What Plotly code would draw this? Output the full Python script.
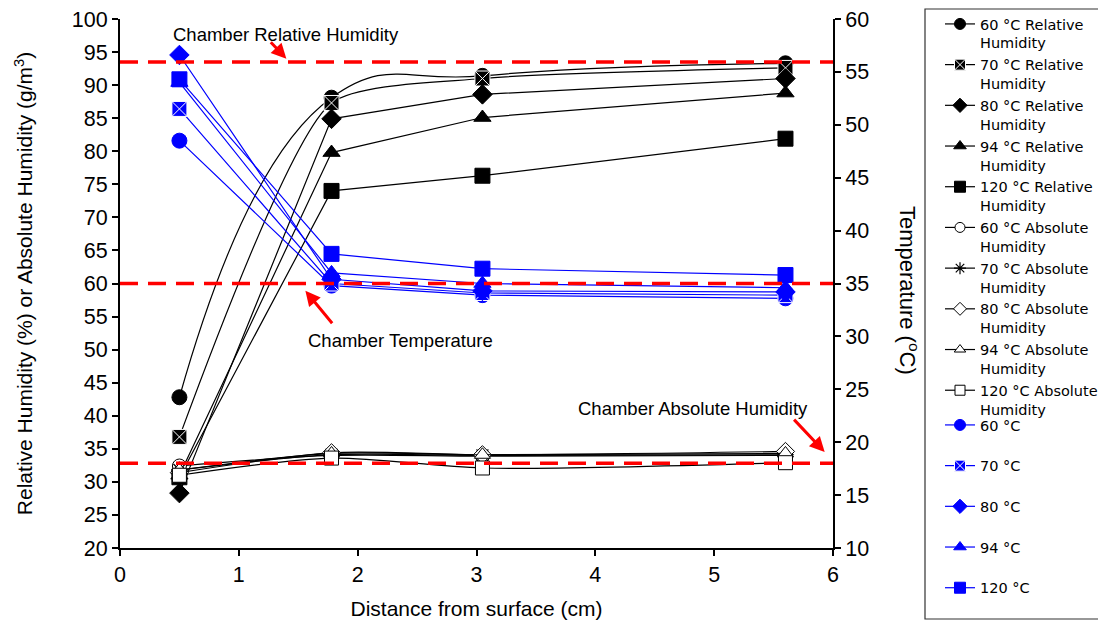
import plotly.graph_objects as go

# ---------------- data ----------------
distance_cm = [0.5, 1.78, 3.05, 5.6]

rh_labels = ["60 °C Relative<br>Humidity", "70 °C Relative<br>Humidity", "80 °C Relative<br>Humidity",
             "94 °C Relative<br>Humidity", "120 °C Relative<br>Humidity"]
rh_60 = [42.8, 88.1, 91.4, 93.3]
rh_70 = [36.8, 87.3, 91.0, 92.6]
rh_80 = [28.3, 84.9, 88.6, 91.0]
rh_94 = [31.0, 79.8, 85.1, 88.8]
rh_120 = [30.7, 74.0, 76.3, 81.9]

ah_labels = ["60 °C Absolute<br>Humidity", "70 °C Absolute<br>Humidity", "80 °C Absolute<br>Humidity",
             "94 °C Absolute<br>Humidity", "120 °C Absolute<br>Humidity"]
ah_60 = [32.4, 34.0, 33.9, 34.0]
ah_70 = [31.8, 34.1, 34.0, 34.1]
ah_80 = [31.4, 34.4, 34.1, 34.6]
ah_94 = [31.8, 34.3, 34.1, 34.3]
ah_120 = [31.0, 33.6, 32.1, 32.9]

t_labels = ["60 °C", "70 °C", "80 °C", "94 °C", "120 °C"]
t_60 = [48.5, 34.8, 33.9, 33.6]
t_70 = [51.5, 35.0, 34.1, 33.9]
t_80 = [56.6, 35.4, 34.3, 34.2]
t_94 = [54.0, 36.0, 35.0, 34.6]
t_120 = [54.3, 37.8, 36.4, 35.8]

chamber_rh = 93.5
chamber_ah = 32.8
chamber_temp = 35.0

x_ticks = [0, 1, 2, 3, 4, 5, 6]
# ---------------------------------------

FONT = "Liberation Sans, Arial, sans-serif"
LEG_FONT = "DejaVu Sans, Liberation Sans, sans-serif"
BLUE = "#0000FF"

# The page body adds an 8 px offset; the figure is sized so that it fits the window exactly.
FIG_W, FIG_H = 1090, 612
M_L, M_R, M_B = 112, 265, 72
PAPER_H = FIG_H - M_B          # 540 (margin t = 0)
PLOT_W = FIG_W - M_L - M_R     # 713
OFF = 8


def py(screen_y):
    return (PAPER_H - (screen_y - OFF)) / PAPER_H


def px(screen_x):
    return (screen_x - OFF - M_L) / PLOT_W


fig = go.Figure()

rh_series = [rh_60, rh_70, rh_80, rh_94, rh_120]
ah_series = [ah_60, ah_70, ah_80, ah_94, ah_120]
t_series = [t_60, t_70, t_80, t_94, t_120]
symbols = ["circle", "square-x", "diamond", "triangle-up", "square"]
ah_symbols = ["circle", "asterisk", "diamond", "triangle-up", "square"]
rh_shapes = [("spline", 1.3), ("spline", 0.6), ("linear", 0), ("linear", 0), ("linear", 0)]


def rh_marker(sym, size):
    return dict(symbol=sym, size=size, color="black",
                line=dict(color="white" if sym == "square-x" else "black", width=1))


def ah_marker(sym, size):
    if sym == "asterisk":
        return dict(symbol="asterisk-open", size=size, color="black", line=dict(color="black", width=1.2))
    return dict(symbol=sym, size=size, color="white", line=dict(color="black", width=1))


def t_marker(sym, size):
    return dict(symbol=sym, size=size, color=BLUE,
                line=dict(color="white" if sym == "square-x" else BLUE, width=1))


legend_entries = []  # (name, line, marker, legend id)

for lab, ys, sym, (shp, sm) in zip(rh_labels, rh_series, symbols, rh_shapes):
    ln = dict(color="black", width=1.2, shape=shp)
    if shp == "spline":
        ln["smoothing"] = sm
    fig.add_trace(go.Scatter(x=distance_cm, y=ys, name=lab, mode="lines+markers", showlegend=False,
                             line=ln, marker=rh_marker(sym, 15)))
    legend_entries.append((lab, dict(color="black", width=1.2), rh_marker(sym, 11), "legend"))

for lab, ys, sym in zip(ah_labels, ah_series, ah_symbols):
    fig.add_trace(go.Scatter(x=distance_cm, y=ys, name=lab, mode="lines+markers", showlegend=False,
                             line=dict(color="black", width=1.2, shape="spline", smoothing=0.8),
                             marker=ah_marker(sym, 14)))
    legend_entries.append((lab, dict(color="black", width=1.2), ah_marker(sym, 10), "legend"))

for lab, ys, sym in zip(t_labels, t_series, symbols):
    fig.add_trace(go.Scatter(x=distance_cm, y=ys, name=lab, mode="lines+markers", showlegend=False,
                             yaxis="y2", line=dict(color=BLUE, width=1.2), marker=t_marker(sym, 15)))
    legend_entries.append((lab + "<br> ", dict(color=BLUE, width=1.2), t_marker(sym, 11), "legend2"))

# legend proxies (legend styling only, no data drawn)
for name, ln, mk, lg in legend_entries:
    fig.add_trace(go.Scatter(x=[None], y=[None], name=name, mode="lines+markers",
                             line=ln, marker=mk, legend=lg, showlegend=True, hoverinfo="skip"))

# chamber reference lines
dash = "18px,10px"
fig.add_shape(type="line", xref="x", yref="y", x0=0, x1=6, y0=chamber_rh, y1=chamber_rh,
              line=dict(color="#FF0000", width=3.5, dash=dash))
fig.add_shape(type="line", xref="x", yref="y2", x0=0, x1=6, y0=chamber_temp, y1=chamber_temp,
              line=dict(color="#FF0000", width=3.5, dash=dash))
fig.add_shape(type="line", xref="x", yref="y", x0=0, x1=6, y0=chamber_ah, y1=chamber_ah,
              line=dict(color="#FF0000", width=3.5, dash=dash))

# legend frame
fig.add_shape(type="rect", xref="paper", yref="paper",
              x0=px(925), x1=px(1102), y0=py(619), y1=py(9),
              line=dict(color="#333333", width=1.2), fillcolor="rgba(0,0,0,0)", layer="below")

txt = dict(family=FONT, size=18.5, color="black")
fig.add_annotation(x=1.395, y=97.7, xref="x", yref="y", text="Chamber Relative Humidity",
                   showarrow=False, font=txt)
fig.add_annotation(x=2.36, y=51.4, xref="x", yref="y", text="Chamber Temperature",
                   showarrow=False, font=txt)
fig.add_annotation(x=4.82, y=41.1, xref="x", yref="y", text="Chamber Absolute Humidity",
                   showarrow=False, font=txt)

arrow = dict(showarrow=True, arrowhead=2, arrowsize=1, arrowwidth=3, arrowcolor="#FF0000", text="",
             axref="pixel", ayref="pixel")
fig.add_annotation(x=1.40, y=94.0, xref="x", yref="y", ax=-17, ay=-18, **arrow)
fig.add_annotation(x=1.56, y=58.9, xref="x", yref="y", ax=28, ay=34, **arrow)
fig.add_annotation(x=5.93, y=34.5, xref="x", yref="y", ax=-32, ay=-34, **arrow)

# right axis title (reads top to bottom)
fig.add_annotation(x=px(925), y=py(290), xref="paper", yref="paper", text="Temperature (<sup>o</sup>C)",
                   textangle=90, showarrow=False, font=dict(family=FONT, size=22, color="black"))

axis_common = dict(showgrid=False, zeroline=False, showline=True, linecolor="black", linewidth=2,
                   ticks="outside", ticklen=6, tickwidth=1.5, tickcolor="black",
                   ticklabeloverflow="allow",
                   tickfont=dict(family=FONT, size=21.5, color="black"))

domain_top = py(19)

leg_common = dict(xanchor="left", yanchor="top", borderwidth=0, bgcolor="rgba(0,0,0,0)",
                  font=dict(family=LEG_FONT, size=14.5, color="black"),
                  tracegroupgap=0, valign="top", itemwidth=30)

fig.update_layout(
    width=FIG_W, height=FIG_H,
    margin=dict(l=M_L, r=M_R, t=0, b=M_B, autoexpand=False),
    paper_bgcolor="white", plot_bgcolor="white",
    font=dict(family=FONT, color="black"),
    xaxis=dict(range=[0, 6], tickvals=x_ticks,
               title=dict(text="Distance from surface (cm)", font=dict(family=FONT, size=21), standoff=16),
               **axis_common),
    yaxis=dict(range=[20, 100], dtick=5, domain=[0, domain_top],
               title=dict(text="Relative Humidity (%) or Absolute Humidity (g/m<sup>3</sup>)",
                          font=dict(family=FONT, size=21), standoff=33),
               **axis_common),
    yaxis2=dict(range=[10, 60], dtick=5, overlaying="y", side="right", domain=[0, domain_top],
                **axis_common),
    showlegend=True,
    legend=dict(x=px(940), y=1.0, **leg_common),
    legend2=dict(x=px(940), y=py(409), **leg_common),
)

fig.write_html("out.html")
